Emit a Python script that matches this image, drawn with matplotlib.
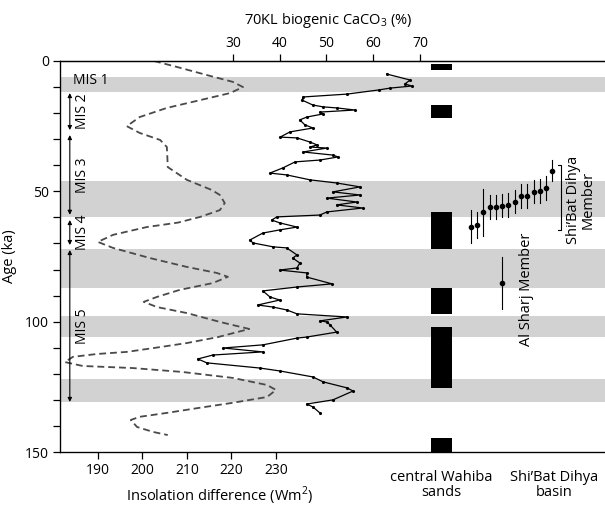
import matplotlib.pyplot as plt
from matplotlib.transforms import blended_transform_factory

plt.rcParams['font.family'] = ['Open Sans', 'DejaVu Sans']
plt.rcParams['mathtext.fontset'] = 'custom'
plt.rcParams['mathtext.rm'] = 'Open Sans'

# insolation difference (Wm2) vs age (ka), dashed curve
ins_age = [0, 2.3, 5.4, 8, 10, 12.3, 15, 18, 21.5, 25, 27.6, 30.3, 33, 36.5,
           40.7, 45.6, 49.5, 51.4, 54.5, 57.2, 59.8, 62, 63.7, 66.7, 69.4,
           71.7, 75.6, 79, 81.3, 82.8, 85.2, 87.8, 90.5, 92.4, 94.4, 96.7,
           100.1, 102.8, 105.9, 108.2, 110, 111.6, 112.4, 113.5, 115.5, 117,
           117.8, 119.3, 121.6, 124.3, 126.2, 128.9, 131.2, 133, 135, 136.5,
           137.7, 140.4, 142.3, 143.5]
ins_val = [202.6, 207.8, 214.5, 220.3, 222.6, 219.7, 213, 205.5, 199.4, 196.5,
           199.4, 204, 205.5, 205.6, 205.7, 210, 215.6, 217.4, 218.5, 217.4,
           213, 208, 201, 193.4, 190, 193.4, 201.7, 210, 216.7, 219.2, 215.8,
           208.4, 203.3, 200.3, 203.3, 210, 217.4, 224, 217, 210, 203, 196.5,
           189.8, 184.4, 182.6, 186.6, 197.9, 209, 220.4, 228, 230, 228, 220,
           213, 205.5, 199.4, 197.4, 198.8, 202.4, 205.7]

# 70KL biogenic CaCO3 (%) vs age (ka)
caco3_age = [5, 7.3, 8.8, 9.6, 10.4, 11.1, 12.7, 13.8, 15, 16.9, 17.6, 18,
             18.8, 19.6, 20.3, 21.5, 22.6, 24.5, 25.7, 27.2, 29.2, 29.5, 31.1,
             32.2, 33, 33.4, 34.9, 36.1, 36.8, 38, 38.7, 41, 43, 43.7, 45.6,
             46.8, 48.3, 50.2, 51.4, 52.6, 54.1, 55.2, 56.4, 57.9, 59.1, 59.8,
             61, 62.1, 63.7, 64.8, 66, 68.7, 69.8, 71.3, 71.7, 74.4, 75.6,
             77.5, 79.4, 80.2, 81.3, 82.9, 85.5, 86.7, 88.2, 90.5, 91.7, 93.6,
             94.4, 95.5, 97, 98.2, 99.7, 100.1, 101.3, 104, 105.9, 106.3,
             108.9, 110.1, 111.6, 112.8, 114.3, 115.8, 117.8, 118.9, 121.2,
             123.1, 125.4, 126.6, 130, 131.6, 132.7, 135]
caco3_val = [62.9, 67.9, 66.8, 68.3, 63.6, 61.2, 54.4, 45, 44.8, 47.1, 49.3,
             52.2, 56.1, 48.6, 49.3, 45.8, 44.3, 45.4, 47.1, 42.2, 40.1, 43.7,
             46.5, 48, 46.5, 50.1, 45, 51.4, 52.5, 48.6, 43.3, 40.7, 37.9,
             41.5, 46.5, 52.2, 57.2, 51.4, 57.2, 50.1, 56.5, 52.2, 57.8, 50.1,
             48.6, 39.4, 38.3, 40, 43.7, 40, 36.4, 33.6, 34.3, 38.6, 41.5,
             43.7, 42.8, 44.3, 43.7, 40, 45.8, 45.8, 51.2, 43.7, 36.4, 37.9,
             40, 35.3, 38.6, 41.5, 43.7, 54.4, 48.6, 50.1, 50.8, 52.2, 45.8,
             43.7, 36.4, 27.9, 36.4, 25.7, 22.5, 24.4, 35.8, 40, 47.1, 49.3,
             54.4, 55.7, 51.4, 45.8, 47.1, 48.6]

# marine isotope stage bands (ka) and labels
gray_bands = [(6, 12), (46, 60), (72, 87), (98, 106), (122, 131)]
mis_names = ['MIS 2', 'MIS 3', 'MIS 4', 'MIS 5']
mis_ranges = [(12.3, 26.5), (28.4, 59), (61, 70.6), (72.5, 130.8)]

# central Wahiba sands ages (ka)
wahiba = [(1, 3.5), (17, 22), (58, 72), (87, 97), (102, 125.5), (144.5, 150)]

# Shi'Bat Dihya member ages and errors (ka)
shibat_age = [63.5, 63, 58, 56, 56, 55.5, 55.2, 54, 51.8, 51.8, 50.1, 49.9,
              48.8, 42.1]
shibat_err = [6.5, 5, 9, 4.5, 4.5, 4.5, 4.5, 4.5, 4.5, 4.5, 4.5, 4.5, 4.5, 4]
sharj_age = 85.3
sharj_err = 10

W, H = 605, 507
fig = plt.figure(figsize=(W / 100, H / 100), dpi=100)
ax = fig.add_axes([60 / W, (H - 452) / H, 545 / W, 391 / H])
tr = blended_transform_factory(ax.transAxes, ax.transData)

for lo, hi in gray_bands:
    ax.axhspan(lo, hi, color='#d2d2d2', lw=0, zorder=0)
for lo, hi in wahiba:
    ax.axhspan(lo, hi, xmin=0.681, xmax=0.719, color='black', lw=0, zorder=2)

ax.plot(ins_val, ins_age, color='#4a4a4a', lw=1.3, ls=(0, (3.8, 2.2)),
        zorder=3)
ax.set_xlim(181.5, 303.9)
ax.set_ylim(150, 0)
ax.set_xticks([190, 200, 210, 220, 230])
ax.set_yticks([0, 50, 100, 150])
ax.set_yticks(range(0, 151, 10), minor=True)
ax.tick_params(axis='both', which='both', direction='out', length=5,
               width=0.9, labelsize=10, pad=3)
ax.spines['right'].set_visible(False)
for s in ['left', 'bottom', 'top']:
    ax.spines[s].set_linewidth(0.9)
ax.set_ylabel('Age (ka)', fontsize=10.5, labelpad=6)

ax2 = ax.twiny()
ax2.plot(caco3_val, caco3_age, color='black', lw=0.9, marker='.', ms=2.5,
         zorder=3)
ax2.set_xlim(-7.0, 109.6)
ax2.set_xticks([30, 40, 50, 60, 70])
ax2.tick_params(axis='x', direction='out', length=5, width=0.9,
                labelsize=10, pad=2)
ax2.spines['right'].set_visible(False)
ax2.spines['top'].set_linewidth(0.9)

# MIS arrows and labels
ax.text(0.024, 7.3, 'MIS 1', fontsize=10, va='center', ha='left',
        transform=tr)
for name, (lo, hi) in zip(mis_names, mis_ranges):
    ax.annotate('', xy=(0.018, lo), xytext=(0.018, hi), xycoords=tr,
                textcoords=tr,
                arrowprops=dict(arrowstyle='<|-|>', lw=0.8, color='black',
                                mutation_scale=6, shrinkA=0, shrinkB=0))
    ax.text(0.042, (lo + hi) / 2, name, rotation=90, fontsize=10,
            ha='center', va='center', transform=tr)

# Shi'Bat Dihya member error bars
for i, (a, e) in enumerate(zip(shibat_age, shibat_err)):
    x = (470.7 - 60 + i * 6.28) / 545
    ax.plot([x, x], [a - e, a + e], color='black', lw=0.8, transform=tr)
    ax.plot([x], [a], 'o', color='black', ms=3, transform=tr)
x = (501.7 - 60) / 545
ax.plot([x, x], [sharj_age - sharj_err, sharj_age + sharj_err],
        color='black', lw=0.8, transform=tr)
ax.plot([x], [sharj_age], 'o', color='black', ms=3, transform=tr)

# bracket for Shi'Bat Dihya member
bx0, bx1 = (557.5 - 60) / 545, (561 - 60) / 545
ax.plot([bx0, bx1, bx1, bx0], [40, 40, 65, 65], color='black', lw=0.8,
        transform=tr)

fig.text(328 / W, 1 - 21 / H, '70KL biogenic CaCO$_3$ (%)', fontsize=10.5,
         ha='center', va='center')
fig.text(220 / W, 1 - 496 / H, 'Insolation difference (Wm$^2$)',
         fontsize=10.5, ha='center', va='center')
fig.text(527 / W, 1 - 289 / H, 'Al Sharj Member', rotation=90, fontsize=10.5,
         ha='center', va='center')
fig.text(581 / W, 1 - 200 / H, 'Shi’Bat Dihya\nMember', rotation=90,
         fontsize=10.5, ha='center', va='center', linespacing=0.95,
         multialignment='center')
fig.text(441 / W, 1 - 485 / H, 'central Wahiba\nsands', fontsize=10.5,
         ha='center', va='center', linespacing=0.95, multialignment='center')
fig.text(554 / W, 1 - 485 / H, 'Shi’Bat Dihya\nbasin', fontsize=10.5,
         ha='center', va='center', linespacing=0.95, multialignment='center')

fig.savefig('out.png', dpi=100)
